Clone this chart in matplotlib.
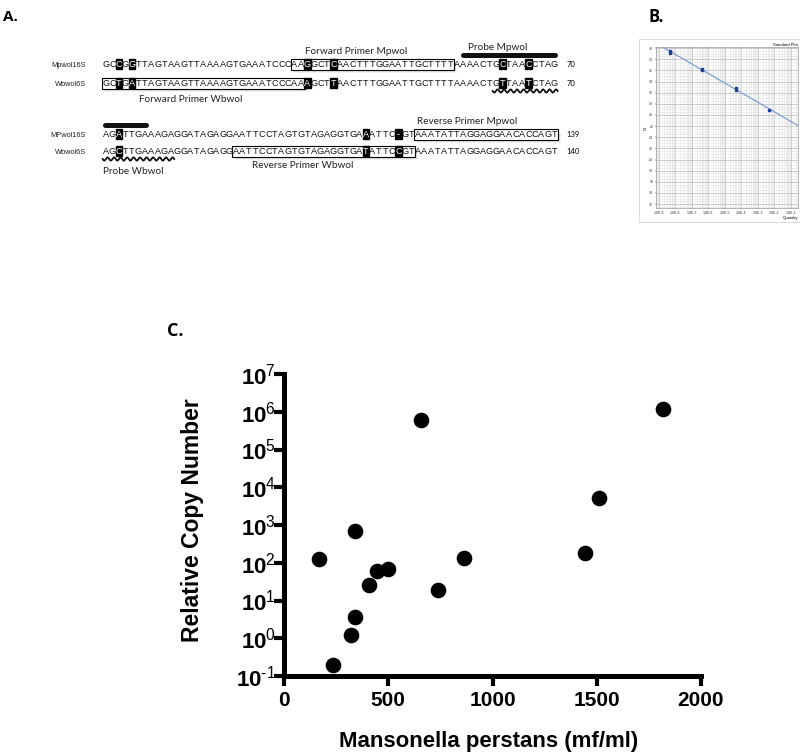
import numpy as np
import matplotlib
matplotlib.use("Agg")
import matplotlib.pyplot as plt
from matplotlib.patches import Rectangle

plt.rcParams["font.family"] = ["Liberation Sans", "DejaVu Sans"]
plt.rcParams["mathtext.fontset"] = "custom"
plt.rcParams["mathtext.rm"] = "Liberation Sans"
plt.rcParams["mathtext.bf"] = "Liberation Sans:bold"

# ---- panel A: alignment ----
row_names = ["Mpwol16S", "Wbwol6S", "MPwol16S", "Wbwol6S"]
row_seqs = [
    "GCCGGTTAGTAAGTTAAAAGTGAAATCCCAAGGCTCAACTTTGGAATTGCTTTTAAAACTGCTAACCTAG",
    "GCTGATTAGTAAGTTAAAAGTGAAATCCCAAAGCTTAACTTTGGAATTGCTTTTAAAACTGTTAATCTAG",
    "AGATTGAAAGAGGATAGAGGAATTCCTAGTGTAGAGGTGAAATTC-GTAAATATTAGGAGGAACACCAGT",
    "AGCTTGAAAGAGGATAGAGGAATTCCTAGTGTAGAGGTGATATTCCGTAAATATTAGGAGGAACACCAGT",
]
row_ends = ["70", "70", "139", "140"]
highlights = [[2, 4, 31, 35, 61, 65], [2, 4, 31, 35, 61, 65], [2, 40, 45], [2, 40, 45]]
# (row, first, last) of each primer box
primer_boxes = [(0, 29, 53), (1, 0, 30), (2, 48, 69), (3, 20, 47)]
primer_labels = ["Forward Primer Mpwol", "Forward Primer Wbwol",
                 "Reverse Primer Mpwol", "Reverse Primer Wbwol"]
probe_bars = [(0, 55, 70), (2, 0, 7)]
probe_waves = [(1, 60, 70), (3, 0, 11)]

# ---- panel B: standard curve ----
std_qty = [5e-9, 5e-9, 4e-7, 4e-7, 5e-5, 5e-5, 4.5e-3]
std_ct = [39.1, 39.5, 36.3, 36.0, 32.9, 32.5, 28.9]

# ---- panel C: copy number vs microfilaraemia ----
mf_per_ml = [170, 235, 321, 342, 342, 407, 445, 497, 656, 740, 862, 1444, 1511, 1818]
rel_copies = [123, 0.2, 1.2, 3.6, 690, 26, 62, 67, 5.9e5, 18.6, 134, 185, 5100, 1.15e6]
y_exps = list(range(-1, 8))

W, H = 800, 753
fig = plt.figure(figsize=(W / 100, H / 100), dpi=100)

# layout of the alignment (pixels)
SEQ_X0, PITCH = 102.7, 6.5
SEQ_FS = 6.6
CAP = 0.716 * SEQ_FS * 100 / 72
row_y = [64, 83, 134, 151]
label_cx = [39.0, 13.5, 56.0, 30.7]
label_dy = [-12, 16, -13, 14]

axA = fig.add_axes([0, 1 - 190 / H, 1, 190 / H])
axA.set_xlim(-SEQ_X0 / PITCH, (W - SEQ_X0) / PITCH)
axA.set_ylim(190, 0)
axA.axis("off")

for (r, s, e), lab, cx, dy in zip(primer_boxes, primer_labels, label_cx, label_dy):
    y = row_y[r]
    w = e - s + 1.1
    for off, a in [(3.0, 0.10), (2.2, 0.14), (1.4, 0.18)]:
        axA.add_patch(Rectangle((s - 0.05 + off / PITCH, y - 5.5 + off), w, 11,
                                color="gray", alpha=a, lw=0, zorder=1))
    axA.add_patch(Rectangle((s - 0.05, y - 5.5), w, 11, facecolor="white",
                            edgecolor="black", lw=0.8, zorder=2))
    axA.text(cx, y + dy, lab, ha="center", va="center", fontsize=7.2,
             family="Lato", color="#222222")

for r, (name, seq, end) in enumerate(zip(row_names, row_seqs, row_ends)):
    y = row_y[r]
    axA.text(-2.57, y + CAP / 2, name, ha="right", va="baseline", fontsize=5.3,
             color="#222222")
    for i, ch in enumerate(seq):
        hl = i in highlights[r]
        if hl:
            axA.add_patch(Rectangle((i + 0.02, y - 4.6), 0.96, 9.2, color="black", zorder=3))
        axA.text(i + 0.5, y + CAP / 2, ch, ha="center", va="baseline", fontsize=SEQ_FS,
                 color="white" if hl else "#111111", zorder=4)
    axA.text(71.3, y + CAP / 2, end, ha="left", va="baseline", fontsize=5.5, family="Lato")

for r, s, e in probe_bars:
    y = row_y[r] - 9
    axA.plot([s + 0.4, e - 0.4], [y, y], lw=3.6, color="#111111", solid_capstyle="round")
axA.text(60.7, row_y[0] - 16, "Probe Mpwol", ha="center", va="center",
         fontsize=7.2, family="Lato", color="#222222")

for r, s, e in probe_waves:
    xs = np.linspace(s, e, 400)
    ys = row_y[r] + 8 + 1.6 * np.sin(2 * np.pi * (xs - s))
    axA.plot(xs, ys, lw=1.3, color="#111111")
axA.text(0, row_y[3] + 20, "Probe Wbwol", ha="left", va="center",
         fontsize=7.2, family="Lato", color="#222222")

fig.text(3 / W, 1 - 17 / H, "A.", fontsize=11, fontweight="bold",
         family="Open Sans", ha="left", va="center")

# ---- panel B ----
fig.add_artist(Rectangle((639 / W, 1 - 222 / H), 161 / W, 183 / H,
                         transform=fig.transFigure, fill=False,
                         edgecolor="#d5d5d5", lw=0.6))
axB = fig.add_axes([656 / W, 1 - 208 / H, 142 / W, 161 / H])
axB.set_xscale("log")
axB.set_xlim(10 ** -9.18, 10 ** -0.56)
axB.set_ylim(11.3, 40.2)
axB.set_yticks(np.arange(12, 41, 2))
axB.tick_params(labelsize=2.5, length=1, width=0.3, pad=1, colors="#333333")
axB.set_xticks([10.0 ** k for k in range(-9, 0)])
axB.set_xticklabels(["1.0E%d" % k for k in range(-9, 0)])
axB.grid(True, which="major", color="#b8b8b8", lw=0.5)
axB.grid(True, which="minor", color="#e2e2e2", lw=0.4)
axB.minorticks_on()
axB.tick_params(which="minor", length=0)
for sp in axB.spines.values():
    sp.set_color("#999999")
    sp.set_linewidth(0.5)
fit = np.polyfit(np.log10(std_qty), std_ct, 1)
lx = np.linspace(-9.18, -0.56, 50)
axB.plot(10 ** lx, np.polyval(fit, lx), color="#7d9fcf", lw=0.9)
axB.plot(std_qty, std_ct, "s", ms=1.8, color="#1f3f9f")
axB.set_title("Standard Plot", fontsize=3, loc="right", pad=1)
axB.set_ylabel("Ct", fontsize=3, labelpad=1)
axB.set_xlabel("Quantity", fontsize=3, labelpad=1, loc="right")
fig.text(648 / W, 1 - 17 / H, "B.", fontsize=12, fontweight="bold",
         family="Open Sans", ha="left", va="center")

# ---- panel C ----
axC = fig.add_axes([284 / W, 1 - 676 / H, (701 - 284) / W, (676 - 374) / H])
axC.scatter(mf_per_ml, rel_copies, s=105, color="black", clip_on=False, zorder=3)
axC.set_yscale("log")
axC.set_ylim(0.1, 1e7)
axC.set_xlim(0, 2000)
axC.set_yticks([10.0 ** k for k in y_exps])
axC.set_yticklabels([r"$\mathbf{10}^{\text{%d}}$" % k for k in y_exps])
axC.yaxis.set_minor_locator(matplotlib.ticker.NullLocator())
axC.set_xticks([0, 500, 1000, 1500, 2000])
for sp in ["top", "right"]:
    axC.spines[sp].set_visible(False)
for sp in ["left", "bottom"]:
    axC.spines[sp].set_linewidth(3.6)
axC.tick_params(axis="y", width=3, length=7, labelsize=16, pad=-1)
axC.tick_params(axis="x", width=3, length=7, labelsize=15, pad=4)
for t in axC.get_xticklabels():
    t.set_fontweight("bold")

fig.text(193 / W, 1 - 520 / H, "Relative Copy Number", rotation=90, fontsize=16.5,
         fontweight="bold", ha="center", va="center")
fig.text(489 / W, 1 - 747 / H, "Mansonella perstans (mf/ml)", fontsize=16,
         fontweight="bold", ha="center", va="baseline")
fig.text(167 / W, 1 - 331 / H, "C.", fontsize=13, fontweight="bold",
         family="Open Sans", ha="left", va="center")

fig.savefig("out.png", dpi=100)
